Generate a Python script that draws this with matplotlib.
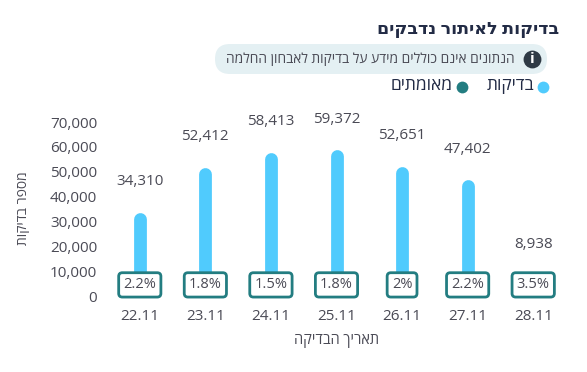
import matplotlib
matplotlib.use("Agg")
import matplotlib.pyplot as plt
from matplotlib.patches import FancyBboxPatch

plt.rcParams['font.family'] = ['Open Sans', 'DejaVu Sans']

dates = ['22.11', '23.11', '24.11', '25.11', '26.11', '27.11', '28.11']
tests = [34310, 52412, 58413, 59372, 52651, 47402, 8938]
rates = ['2.2%', '1.8%', '1.5%', '1.8%', '2%', '2.2%', '3.5%']
yticks = [0, 10000, 20000, 30000, 40000, 50000, 60000, 70000]

title = 'בדיקות לאיתור נדבקים'
note = 'הנתונים אינם כוללים מידע על בדיקות לאבחון החלמה'
legend_a = 'בדיקות'
legend_b = 'מאומתים'
xtitle = 'תאריך הבדיקה'
ytitle = 'מספר בדיקות'

BLUE = '#50cbfd'
TEAL = '#237d81'
DARK = '#222b45'
GREY = '#4a4a55'


def heb(s):
    # matplotlib does not do right to left, so flip to visual order
    return s[::-1]


W, H = 587, 372
fig = plt.figure(figsize=(W / 100, H / 100), dpi=100)

# page layer in pixels, for header and legend
page = fig.add_axes([0, 0, 1, 1])
page.set_xlim(0, W)
page.set_ylim(H, 0)
page.axis('off')

page.text(559, 29, heb(title), ha='right', va='center', fontsize=12.6,
          fontweight='bold', color=DARK)
page.add_patch(FancyBboxPatch((215, 44), 332, 30, boxstyle='round,pad=0,rounding_size=15',
                              fc='#e4f0f3', ec='none'))
page.scatter([532], [59], s=165, color='#2f3a45', linewidths=0, zorder=3)
page.text(532, 59, 'i', ha='center', va='center', fontsize=11, fontweight='bold',
          color='white', zorder=4)
page.text(515, 59, heb(note), ha='right', va='center', fontsize=9.9, color=GREY)
page.scatter([543], [87], s=72, color=BLUE, linewidths=0)
page.text(534, 86, heb(legend_a), ha='right', va='center', fontsize=12.4, color=DARK)
page.scatter([462], [87], s=72, color=TEAL, linewidths=0)
page.text(453, 86, heb(legend_b), ha='right', va='center', fontsize=12.5, color=DARK)
page.text(24, 208, heb(ytitle), ha='center', va='center', rotation=90, fontsize=10, color=GREY)
page.text(337, 341, heb(xtitle), ha='center', va='center', fontsize=10.5, color=GREY)

# chart layer, 0 sits at y=296 px and 70000 at y=122 px
left, right, top, bottom = 107, 566, 122, 296
ax = fig.add_axes([left / W, 1 - bottom / H, (right - left) / W, (bottom - top) / H])
ax.patch.set_alpha(0)
ax.set_ylim(0, 70000)
ax.set_xlim(-0.5, 6.5)
for s in ax.spines.values():
    s.set_visible(False)

cap = 8 * 70000 / (bottom - top)
x = list(range(len(dates)))
for i in x:
    # clipped at the axis so only the top end stays round
    ax.plot([i, i], [0, tests[i] - cap], color=BLUE, lw=9.2, solid_capstyle='round', zorder=2)
    ax.annotate(f'{tests[i]:,}', (i, tests[i]), xytext=(0, 21), textcoords='offset points',
                ha='center', va='center', fontsize=11, color=GREY)
    ax.annotate(rates[i], (i, 0), xytext=(0, 8), textcoords='offset points',
                ha='center', va='center', fontsize=10.5, color=GREY, zorder=6,
                bbox=dict(boxstyle='round,pad=0.32,rounding_size=0.25', fc='white',
                          ec=TEAL, lw=2))

ax.set_xticks(x, dates)
ax.set_yticks(yticks, [f'{v:,}' for v in yticks])
ax.tick_params(length=0, labelsize=11, labelcolor=GREY)
ax.tick_params(axis='y', pad=7)
ax.tick_params(axis='x', pad=9)

fig.savefig('out.png', dpi=100)
